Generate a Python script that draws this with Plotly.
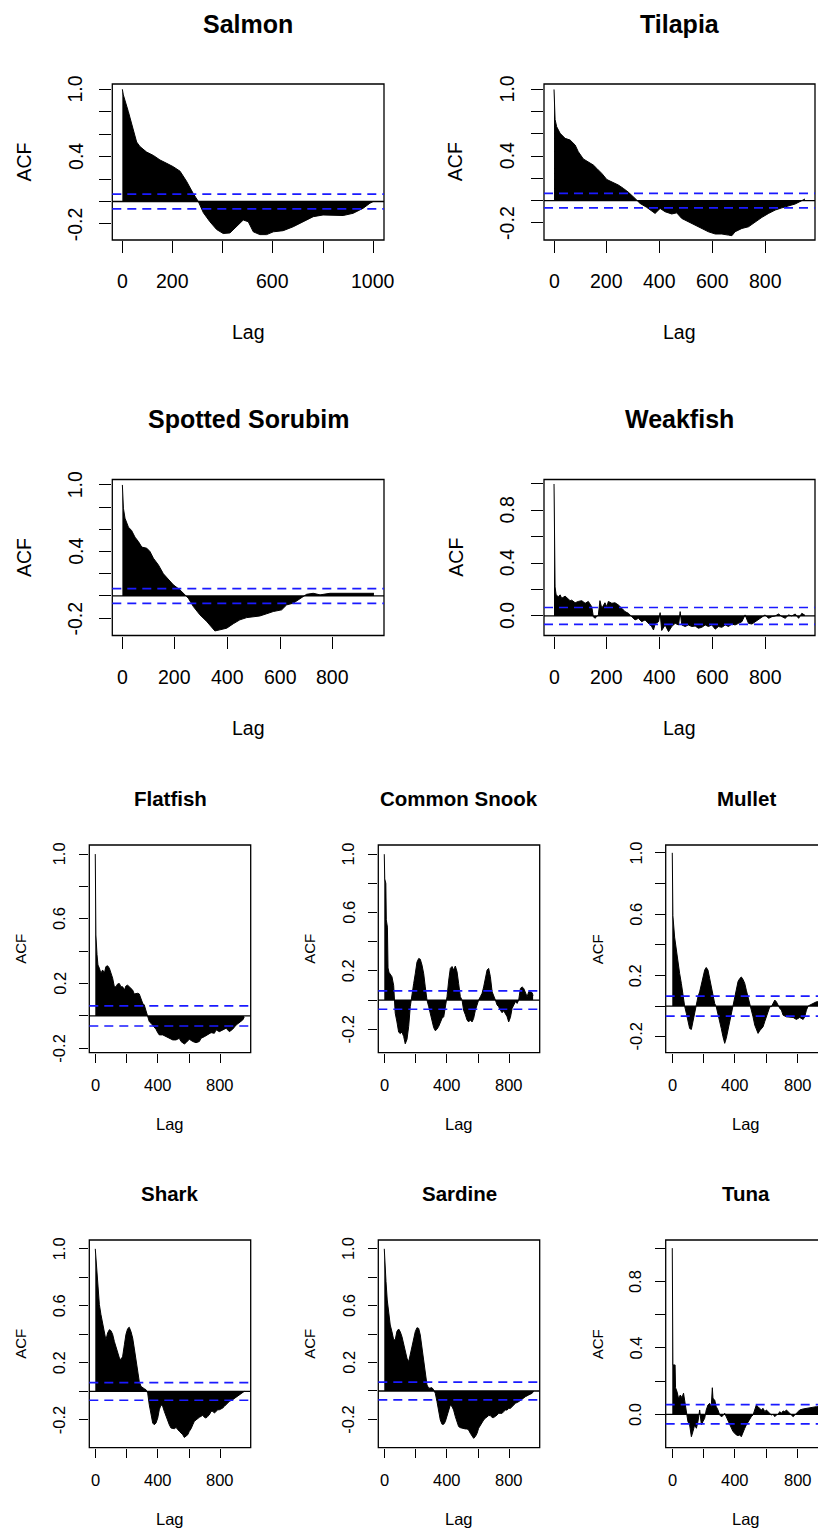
import plotly.graph_objects as go

W, H = 818, 1532
FONT = "Liberation Sans, Arial, sans-serif"

# ---------------- data ----------------
salmon_lag = [0, 4, 24, 44, 57, 70, 97, 124, 150, 177, 203, 230, 256, 283, 303, 323, 349, 376, 402, 429,
              455, 482, 502, 522, 548, 575, 602, 641, 681, 721, 761, 800, 841, 880, 920, 960, 987, 1000]
salmon_acf = [1.0, 0.95, 0.80, 0.64, 0.53, 0.49, 0.44, 0.41, 0.37, 0.34, 0.31, 0.27, 0.18, 0.07, 0.0, -0.10,
              -0.18, -0.25, -0.285, -0.28, -0.22, -0.165, -0.18, -0.27, -0.295, -0.295, -0.27, -0.26, -0.225,
              -0.18, -0.135, -0.12, -0.12, -0.125, -0.105, -0.06, -0.015, 0.0]

tilapia_lag = [0, 4, 10, 23, 42, 61, 80, 92, 111, 130, 149, 162, 181, 200, 219, 244, 263, 282, 307, 326,
               351, 370, 383, 402, 421, 446, 465, 484, 509, 535, 560, 585, 611, 636, 661, 674, 686, 712, 737,
               762, 788, 813, 838, 863, 889, 914, 939, 951]
tilapia_acf = [1.0, 0.73, 0.665, 0.605, 0.56, 0.545, 0.5, 0.44, 0.375, 0.35, 0.32, 0.29, 0.245, 0.19, 0.17,
               0.14, 0.11, 0.075, 0.02, -0.025, -0.06, -0.09, -0.115, -0.07, -0.10, -0.12, -0.11, -0.16, -0.19,
               -0.22, -0.25, -0.28, -0.30, -0.30, -0.31, -0.315, -0.28, -0.25, -0.235, -0.19, -0.15, -0.115,
               -0.085, -0.065, -0.05, -0.03, 0.0, 0.015]

sorubim_lag = [0, 4, 10, 23, 35, 48, 61, 74, 93, 105, 118, 137, 156, 175, 194, 219, 238, 251, 270, 295,
               321, 340, 352, 371, 397, 422, 447, 473, 498, 523, 549, 574, 606, 625, 650, 676, 701, 726, 752,
               790, 828, 866, 904, 942, 957]
sorubim_acf = [1.0, 0.79, 0.70, 0.62, 0.59, 0.53, 0.49, 0.44, 0.43, 0.40, 0.34, 0.28, 0.20, 0.145, 0.10,
               0.055, 0.01, -0.02, -0.095, -0.17, -0.23, -0.28, -0.315, -0.305, -0.29, -0.25, -0.215, -0.195,
               -0.185, -0.18, -0.16, -0.14, -0.125, -0.08, -0.065, -0.02, 0.015, 0.024, 0.01, 0.024, 0.024,
               0.03, 0.024, 0.03, 0.024]

weakfish_lag = [0, 4, 8, 16, 23, 29, 42, 54, 61, 67, 80, 92, 105, 118, 130, 143, 149, 155, 168, 174, 181,
                193, 200, 206, 219, 231, 244, 257, 269, 282, 295, 307, 320, 332, 345, 358, 370, 377, 383, 396,
                402, 408, 421, 434, 446, 459, 472, 478, 484, 497, 509, 522, 535, 547, 560, 573, 585, 598, 611,
                623, 636, 649, 661, 674, 686, 699, 712, 724, 737, 750, 762, 775, 788, 800, 813, 826, 838, 851,
                864, 876, 889, 901, 914, 927, 939, 951]
weakfish_acf = [1.0, 0.22, 0.16, 0.146, 0.16, 0.134, 0.15, 0.126, 0.116, 0.12, 0.10, 0.11, 0.116, 0.096,
                0.11, 0.07, -0.005, -0.018, 0.008, 0.116, 0.058, 0.10, 0.07, 0.11, 0.096, 0.10, 0.083, 0.058,
                0.033, 0.02, -0.005, -0.03, -0.018, -0.043, -0.03, -0.056, -0.08, -0.106, -0.061, -0.043,
                0.025, -0.11, -0.068, -0.119, -0.08, -0.056, -0.068, 0.033, -0.068, -0.08, -0.068, -0.08,
                -0.076, -0.093, -0.086, -0.068, -0.08, -0.068, -0.10, -0.08, -0.086, -0.068, -0.08, -0.061,
                -0.068, -0.056, -0.043, 0.008, -0.056, -0.061, -0.043, -0.025, -0.005, 0.008, -0.018, -0.005,
                0.0, 0.015, -0.005, -0.018, 0.008, 0.0, 0.015, -0.018, 0.02, 0.005]

flatfish_lag = [0, 4, 11, 17, 26, 36, 47, 58, 68, 79, 90, 100, 111, 122, 132, 143, 154, 164, 175, 186,
                196, 207, 217, 228, 239, 249, 260, 271, 281, 292, 303, 313, 324, 335, 345, 356, 367, 377, 388,
                399, 409, 431, 452, 473, 495, 516, 537, 548, 569, 580, 601, 623, 644, 665, 676, 697, 719, 740,
                761, 772, 793, 814, 836, 857, 878, 900, 921, 942, 952]
flatfish_acf = [1.0, 0.50, 0.38, 0.315, 0.295, 0.264, 0.284, 0.264, 0.305, 0.31, 0.295, 0.264, 0.233, 0.18,
                0.18, 0.198, 0.2, 0.18, 0.18, 0.16, 0.185, 0.19, 0.18, 0.165, 0.16, 0.136, 0.14, 0.14, 0.136,
                0.1, 0.078, 0.068, 0.037, -0.004, -0.035, -0.045, -0.056, -0.066, -0.082, -0.103, -0.117,
                -0.117, -0.128, -0.138, -0.148, -0.148, -0.138, -0.158, -0.173, -0.165, -0.144, -0.158,
                -0.165, -0.158, -0.138, -0.128, -0.117, -0.103, -0.107, -0.086, -0.097, -0.086, -0.076,
                -0.097, -0.082, -0.056, -0.041, -0.025, -0.008]

snook_lag = [0, 3, 10, 13, 20, 24, 30, 49, 60, 66, 70, 81, 92, 102, 113, 124, 134, 145, 156, 166, 177, 188,
             198, 209, 220, 230, 241, 252, 262, 273, 284, 294, 305, 316, 326, 337, 348, 358, 369, 380, 390,
             401, 412, 422, 433, 443, 454, 465, 475, 486, 497, 507, 518, 529, 539, 550, 561, 571, 582, 593,
             603, 614, 625, 635, 646, 657, 667, 678, 689, 699, 710, 721, 731, 742, 753, 763, 774, 785, 795,
             806, 817, 827, 838, 849, 859, 870, 881, 891, 902, 913, 923, 934, 945, 951]
snook_acf = [1.0, 0.83, 0.80, 0.55, 0.50, 0.22, 0.19, 0.16, 0.10, 0.0, -0.09, -0.15, -0.22, -0.23, -0.22,
             -0.25, -0.30, -0.27, -0.18, -0.046, 0.046, 0.114, 0.18, 0.26, 0.285, 0.28, 0.24, 0.18, 0.09, 0.0,
             -0.046, -0.09, -0.15, -0.19, -0.21, -0.20, -0.18, -0.15, -0.126, -0.114, -0.046, 0.023, 0.137,
             0.217, 0.23, 0.206, 0.233, 0.194, 0.114, 0.023, 0.0, -0.07, -0.10, -0.137, -0.15, -0.137, -0.15,
             -0.126, -0.07, -0.023, 0.0, 0.023, 0.046, 0.09, 0.149, 0.206, 0.217, 0.16, 0.057, 0.023, 0.0,
             -0.034, -0.046, -0.07, -0.087, -0.073, -0.09, -0.114, -0.15, -0.119, -0.057, -0.034, -0.011,
             -0.023, 0.0, 0.08, 0.09, 0.08, 0.057, 0.023, 0.057, 0.057, 0.05, 0.03]

mullet_lag = [0, 4, 15, 26, 36, 47, 58, 68, 79, 90, 100, 111, 122, 132, 143, 154, 164, 175, 186, 196, 207,
              217, 228, 239, 249, 260, 271, 281, 292, 303, 313, 324, 335, 345, 356, 367, 377, 388, 399, 409,
              420, 431, 441, 452, 463, 473, 484, 495, 505, 516, 527, 537, 548, 559, 569, 580, 591, 601, 612,
              623, 633, 644, 655, 665, 676, 687, 697, 708, 729, 751, 772, 793, 814, 836, 846, 857, 868, 878,
              900, 921, 950]
mullet_acf = [1.0, 0.59, 0.45, 0.365, 0.267, 0.213, 0.148, 0.06, 0.0, -0.048, -0.10, -0.146, -0.152, -0.10,
              -0.048, 0.006, 0.06, 0.093, 0.148, 0.19, 0.235, 0.252, 0.235, 0.18, 0.126, 0.07, 0.017, -0.004,
              -0.048, -0.10, -0.146, -0.20, -0.243, -0.21, -0.157, -0.09, -0.037, 0.017, 0.06, 0.115, 0.16,
              0.18, 0.19, 0.174, 0.148, 0.104, 0.06, 0.017, -0.015, -0.07, -0.124, -0.157, -0.178, -0.16,
              -0.146, -0.135, -0.10, -0.07, -0.026, -0.004, -0.004, 0.017, 0.039, 0.028, 0.0, -0.015, -0.026,
              -0.059, -0.07, -0.07, -0.074, -0.087, -0.074, -0.087, -0.07, -0.026, 0.0, 0.006, 0.017, 0.028,
              0.03]

shark_lag = [0, 9, 15, 26, 36, 47, 58, 68, 79, 90, 100, 111, 122, 132, 143, 154, 164, 175, 186, 196, 207,
             217, 228, 239, 249, 260, 271, 281, 292, 303, 313, 324, 335, 345, 356, 367, 377, 388, 399, 409,
             420, 431, 441, 452, 463, 473, 484, 495, 505, 516, 527, 537, 548, 559, 569, 580, 591, 601, 612,
             623, 633, 644, 655, 665, 676, 687, 697, 708, 719, 729, 740, 751, 761, 772, 783, 793, 804, 814,
             825, 836, 846, 857, 878, 900, 921, 942, 952]
shark_acf = [1.0, 0.84, 0.725, 0.61, 0.54, 0.47, 0.40, 0.36, 0.41, 0.433, 0.426, 0.40, 0.35, 0.316, 0.27,
             0.234, 0.222, 0.246, 0.327, 0.40, 0.44, 0.45, 0.42, 0.374, 0.304, 0.21, 0.14, 0.07, 0.035, 0.023,
             0.019, 0.012, -0.012, -0.094, -0.175, -0.222, -0.234, -0.222, -0.187, -0.129, -0.094, -0.105,
             -0.14, -0.175, -0.21, -0.234, -0.257, -0.262, -0.262, -0.253, -0.27, -0.28, -0.292, -0.304,
             -0.323, -0.316, -0.304, -0.28, -0.262, -0.234, -0.21, -0.2, -0.187, -0.182, -0.175, -0.168,
             -0.182, -0.187, -0.175, -0.164, -0.14, -0.14, -0.152, -0.14, -0.129, -0.129, -0.123, -0.117,
             -0.105, -0.094, -0.082, -0.07, -0.058, -0.042, -0.023, -0.012, 0.0]

sardine_lag = [0, 2, 11, 19, 28, 38, 49, 60, 70, 81, 92, 102, 113, 124, 134, 145, 156, 166, 177, 188, 198,
               209, 220, 230, 241, 252, 262, 273, 284, 294, 305, 316, 326, 337, 348, 358, 369, 380, 390, 401,
               412, 422, 433, 443, 454, 465, 475, 486, 497, 507, 518, 529, 539, 550, 561, 571, 582, 593, 603,
               614, 625, 635, 646, 657, 667, 678, 689, 699, 710, 721, 731, 742, 753, 763, 774, 785, 795, 806,
               817, 827, 838, 859, 881, 902, 923, 945, 955]
sardine_acf = [1.0, 0.93, 0.77, 0.64, 0.535, 0.464, 0.417, 0.36, 0.36, 0.42, 0.436, 0.417, 0.382, 0.335,
               0.277, 0.23, 0.206, 0.253, 0.30, 0.36, 0.417, 0.445, 0.44, 0.394, 0.30, 0.206, 0.113, 0.042,
               0.019, 0.019, 0.023, 0.007, -0.016, -0.075, -0.145, -0.204, -0.234, -0.234, -0.216, -0.169,
               -0.122, -0.098, -0.11, -0.134, -0.18, -0.227, -0.25, -0.258, -0.262, -0.262, -0.267, -0.267,
               -0.274, -0.298, -0.314, -0.333, -0.321, -0.298, -0.262, -0.239, -0.216, -0.204, -0.192, -0.18,
               -0.173, -0.173, -0.187, -0.187, -0.18, -0.169, -0.157, -0.157, -0.157, -0.145, -0.134, -0.134,
               -0.122, -0.122, -0.11, -0.098, -0.087, -0.075, -0.056, -0.04, -0.028, -0.016, 0.0]

tuna_lag = [0, 4, 18, 21, 30, 41, 51, 62, 72, 83, 90, 100, 111, 122, 132, 143, 154, 164, 175, 186, 196,
            207, 217, 228, 239, 249, 256, 260, 271, 281, 292, 303, 313, 324, 335, 345, 356, 367, 377, 388,
            399, 409, 420, 431, 441, 452, 463, 473, 484, 495, 505, 516, 527, 537, 548, 559, 569, 580, 591,
            601, 612, 623, 633, 644, 655, 665, 676, 687, 697, 708, 719, 729, 740, 751, 761, 772, 783, 793,
            804, 814, 836, 857, 878, 900, 921, 950]
tuna_acf = [1.0, 0.297, 0.297, 0.16, 0.137, 0.092, 0.116, 0.10, 0.127, 0.056, 0.006, -0.044, -0.064, -0.135,
            -0.104, -0.064, -0.084, -0.044, 0.026, -0.064, -0.044, -0.024, 0.026, 0.056, 0.066, 0.046, 0.16,
            0.096, 0.086, 0.046, 0.026, -0.004, -0.014, -0.008, 0.006, -0.014, -0.044, -0.064, -0.084,
            -0.104, -0.114, -0.124, -0.128, -0.124, -0.135, -0.104, -0.084, -0.064, -0.044, -0.024, -0.014,
            -0.004, 0.026, 0.056, 0.046, 0.036, 0.026, 0.036, 0.016, 0.026, 0.016, 0.006, -0.004, 0.0,
            -0.014, -0.004, 0.0, 0.016, 0.006, 0.02, 0.016, 0.026, 0.016, 0.006, -0.004, -0.014, -0.004,
            0.006, 0.016, 0.026, 0.032, 0.036, 0.04, 0.04, 0.046, 0.046]

# significance bounds (+/-)
salmon_ci, tilapia_ci, sorubim_ci, weakfish_ci = 0.065, 0.065, 0.066, 0.064
flatfish_ci, snook_ci, mullet_ci = 0.062, 0.063, 0.065
shark_ci, sardine_ci, tuna_ci = 0.062, 0.062, 0.058

# tick values / labels
x_ticks_1000 = [0, 200, 400, 600, 800, 1000]
x_labels_1000 = ["0", "200", "", "600", "", "1000"]
x_ticks_800 = [0, 200, 400, 600, 800]
x_labels_800 = ["0", "200", "400", "600", "800"]
x_labels_800_sparse = ["0", "", "400", "", "800"]
y_ticks_neg = [-0.2, 0.0, 0.2, 0.4, 0.6, 0.8, 1.0]
y_labels_neg_big = ["-0.2", "", "", "0.4", "", "", "1.0"]
y_labels_neg_small = ["-0.2", "", "0.2", "", "0.6", "", "1.0"]
y_ticks_pos = [0.0, 0.2, 0.4, 0.6, 0.8, 1.0]
y_labels_pos = ["0.0", "", "0.4", "", "0.8", ""]

# ---------------- layout description (pixel geometry) ----------------
ROW1, ROW2 = (84, 240), (479.5, 635.5)
ROW3, ROW4 = (845, 1052.7), (1240, 1447.7)
COLA, COLB = (112.3, 384), (544, 815)
COL1, COL2, COL3 = (89.3, 250.7), (378.3, 539.7), (665.7, 827)

panels = [
    dict(t="Salmon", lag=salmon_lag, acf=salmon_acf, ci=salmon_ci, col=COLA, row=ROW1, big=True,
         xr=[-40, 1043], yr=[-0.343, 1.047], xt=x_ticks_1000, xl=x_labels_1000, yt=y_ticks_neg, yl=y_labels_neg_big),
    dict(t="Tilapia", lag=tilapia_lag, acf=tilapia_acf, ci=tilapia_ci, col=COLB, row=ROW1, big=True,
         xr=[-38, 989], yr=[-0.354, 1.049], xt=x_ticks_800, xl=x_labels_800, yt=y_ticks_neg, yl=y_labels_neg_big),
    dict(t="Spotted Sorubim", lag=sorubim_lag, acf=sorubim_acf, ci=sorubim_ci, col=COLA, row=ROW2, big=True,
         xr=[-38.3, 995.3], yr=[-0.356, 1.049], xt=x_ticks_800, xl=x_labels_800, yt=y_ticks_neg, yl=y_labels_neg_big),
    dict(t="Weakfish", lag=weakfish_lag, acf=weakfish_acf, ci=weakfish_ci, col=COLB, row=ROW2, big=True,
         xr=[-38, 989], yr=[-0.148, 1.034], xt=x_ticks_800, xl=x_labels_800, yt=y_ticks_pos, yl=y_labels_pos),
    dict(t="Flatfish", lag=flatfish_lag, acf=flatfish_acf, ci=flatfish_ci, col=COL1, row=ROW3, big=False,
         xr=[-38.2, 993.2], yr=[-0.227, 1.056], xt=x_ticks_800, xl=x_labels_800_sparse, yt=y_ticks_neg, yl=y_labels_neg_small),
    dict(t="Common Snook", lag=snook_lag, acf=snook_acf, ci=snook_ci, col=COL2, row=ROW3, big=False,
         xr=[-38.2, 993.2], yr=[-0.361, 1.063], xt=x_ticks_800, xl=x_labels_800_sparse, yt=y_ticks_neg, yl=y_labels_neg_small),
    dict(t="Mullet", lag=mullet_lag, acf=mullet_acf, ci=mullet_ci, col=COL3, row=ROW3, big=False,
         xr=[-42, 931], yr=[-0.304, 1.051], xt=x_ticks_800, xl=x_labels_800_sparse, yt=y_ticks_neg, yl=y_labels_neg_small),
    dict(t="Shark", lag=shark_lag, acf=shark_acf, ci=shark_ci, col=COL1, row=ROW4, big=False,
         xr=[-38.2, 993.2], yr=[-0.395, 1.062], xt=x_ticks_800, xl=x_labels_800_sparse, yt=y_ticks_neg, yl=y_labels_neg_small),
    dict(t="Sardine", lag=sardine_lag, acf=sardine_acf, ci=sardine_ci, col=COL2, row=ROW4, big=False,
         xr=[-38.2, 993.2], yr=[-0.399, 1.062], xt=x_ticks_800, xl=x_labels_800_sparse, yt=y_ticks_neg, yl=y_labels_neg_small),
    dict(t="Tuna", lag=tuna_lag, acf=tuna_acf, ci=tuna_ci, col=COL3, row=ROW4, big=False,
         xr=[-42, 931], yr=[-0.201, 1.049], xt=x_ticks_800, xl=x_labels_800_sparse, yt=y_ticks_pos, yl=y_labels_pos),
]

fig = go.Figure()
layout = {}
shapes = []
annotations = []


def ann(text, x, y, xref="paper", yref="paper", size=16, angle=0):
    annotations.append(dict(text=text, x=x, y=y, xref=xref, yref=yref, showarrow=False,
                            xanchor="center", yanchor="middle", textangle=angle,
                            font=dict(size=size, color="black", family=FONT)))


for i, p in enumerate(panels):
    n = i + 1
    s = "" if n == 1 else str(n)
    x0, x1 = p["col"]
    y0, y1 = p["row"]
    vis_x1 = min(x1, W)
    big = p["big"]
    fs = 19.5 if big else 16.5
    acf_fs = 19.5 if big else 15
    tfs = 25 if big else 20.5
    tl = 12 if big else 9.5

    fig.add_trace(go.Scatter(
        x=p["lag"], y=p["acf"], mode="lines", fill="tozeroy", fillcolor="black",
        line=dict(color="black", width=1), xaxis="x" + s, yaxis="y" + s,
        showlegend=False, hoverinfo="skip"))

    common = dict(ticks="outside", ticklen=tl, tickwidth=1.3, tickcolor="black", showticklabels=False,
                  showgrid=False, zeroline=False, showline=False, fixedrange=True, automargin=False,
                  tickmode="array")
    layout["xaxis" + s] = dict(domain=[x0 / W, vis_x1 / W], range=p["xr"], anchor="y" + s,
                               tickvals=p["xt"], **common)
    layout["yaxis" + s] = dict(domain=[1 - y1 / H, 1 - y0 / H], range=p["yr"], anchor="x" + s,
                               tickvals=p["yt"], **common)

    xd = "x" + s + " domain"
    yd = "y" + s + " domain"
    right = (x1 - x0) / (vis_x1 - x0)
    shapes.append(dict(type="rect", xref=xd, yref=yd, x0=0, x1=right, y0=0, y1=1,
                       line=dict(color="black", width=1.3), layer="above"))
    shapes.append(dict(type="line", xref=xd, yref="y" + s, x0=0, x1=right, y0=0, y1=0,
                       line=dict(color="black", width=1.3), layer="above"))
    for c in (p["ci"], -p["ci"]):
        shapes.append(dict(type="line", xref=xd, yref="y" + s, x0=0, x1=right, y0=c, y1=c,
                           line=dict(color="#1a1aff", width=1.7, dash="9px,6px"), layer="above"))

    # tick labels, placed with the axes' own scales
    xlab_y = y1 + (41 if big else 32)
    for v, lab in zip(p["xt"], p["xl"]):
        if lab:
            ann(lab, v, 1 - xlab_y / H, xref="x" + s, size=fs)
    ylab_x = x0 - (37 if big else 30)
    for v, lab in zip(p["yt"], p["yl"]):
        if lab:
            ann(lab, ylab_x / W, v, yref="y" + s, size=fs, angle=-90)

    cx = (x0 + x1) / 2
    cy = (y0 + y1) / 2
    title_y = y0 - (60 if big else 47)
    lag_y = y1 + (92 if big else 71.5)
    acf_x = x0 - (88.8 if big else 68.3)
    ann("<b>" + p["t"] + "</b>", cx / W, 1 - title_y / H, size=tfs)
    ann("Lag", cx / W, 1 - lag_y / H, size=fs)
    ann("ACF", acf_x / W, 1 - cy / H, size=acf_fs, angle=-90)

fig.update_layout(template="none", width=W, height=H, margin=dict(l=0, r=0, t=0, b=0, pad=0),
                  paper_bgcolor="white", plot_bgcolor="white", showlegend=False,
                  shapes=shapes, annotations=annotations, **layout)

fig.write_html("out.html")
